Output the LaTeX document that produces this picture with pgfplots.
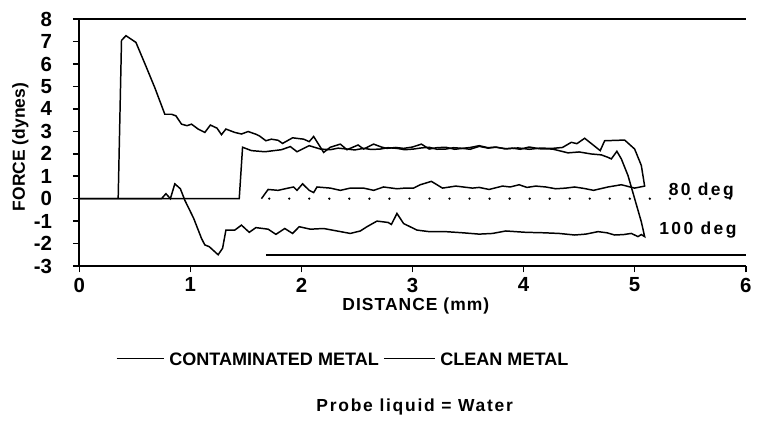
\documentclass[border=0pt]{standalone}
\usepackage{pgfplots}
\pgfplotsset{compat=1.18}
\usepackage{fontspec}
\setmainfont{Liberation Sans}
\begin{document}
\begin{tikzpicture}
\begin{axis}[
  scale only axis, width=336pt, height=124.5pt,
  xmin=0, xmax=6, ymin=-3, ymax=8,
  axis x line*=bottom, axis y line*=left,
  axis line style={-, line width=1pt},
  xtick={0,1,2,3,4,5,6}, ytick={-3,-2,...,8},
  tick align=outside, major tick length=3.2pt,
  tick style={line width=0.8pt, black},
  /pgf/number format/assume math mode=true,
  ticklabel style={font=\fontsize{10.3}{12}\selectfont\bfseries},
  yticklabel style={xshift=-7pt},
  xticklabel style={yshift=0.8pt},
  clip=false,
  cycle list={{black, line width=0.75pt, no markers}},
]
% top frame line
\addplot[black, line width=1pt] coordinates {(0,8) (6,8)};
% horizontal line near bottom
\addplot[black, line width=1pt] coordinates {(1.68,-2.53) (6,-2.53)};
% dotted zero line
\addplot[black, line width=1.3pt, line cap=round, dash pattern=on 0pt off 10.1pt] coordinates {(1.71,0) (5.95,0)};
% 100 deg loop
\addplot[black, line width=0.75pt] coordinates {
(0,0) (0.35,0) (0.38,7.05) (0.42,7.26) (0.51,6.96) (0.60,5.9) (0.68,4.94) (0.77,3.76) (0.83,3.76) (0.87,3.69) (0.92,3.32) (0.97,3.25) (1.01,3.32) (1.07,3.1) (1.13,2.95) (1.18,3.28) (1.24,3.14) (1.28,2.85) (1.32,3.1) (1.40,2.95) (1.46,2.88) (1.52,2.99) (1.59,2.87) (1.62,2.8) (1.68,2.58) (1.73,2.65) (1.79,2.6) (1.83,2.46) (1.92,2.71) (2.02,2.65) (2.07,2.54) (2.11,2.77) (2.20,2.06) (2.26,2.29) (2.35,2.43) (2.41,2.18) (2.51,2.39) (2.56,2.21) (2.65,2.43) (2.72,2.3) (2.77,2.24) (2.85,2.28) (2.92,2.24) (3.0,2.3) (3.08,2.43) (3.15,2.21) (3.22,2.27) (3.30,2.29) (3.38,2.2) (3.45,2.24) (3.52,2.28) (3.60,2.36) (3.68,2.27) (3.75,2.3) (3.83,2.22) (3.9,2.25) (3.97,2.2) (4.05,2.3) (4.15,2.22) (4.26,2.21) (4.40,2.04) (4.50,2.08) (4.61,1.99) (4.70,1.95) (4.76,1.84) (4.79,1.77) (4.84,2.11) (4.88,1.77) (4.94,1.03) (5.0,0) (5.06,-1.03) (5.09,-1.69)
(5.06,-1.6) (5.03,-1.69) (4.97,-1.55) (4.90,-1.6) (4.82,-1.62) (4.75,-1.52) (4.67,-1.47) (4.56,-1.58) (4.46,-1.62) (4.32,-1.55) (4.18,-1.52) (4.02,-1.5) (3.84,-1.44) (3.72,-1.55) (3.6,-1.58) (3.45,-1.52) (3.30,-1.47) (3.15,-1.47) (3.04,-1.40) (2.92,-1.11) (2.86,-0.66) (2.81,-1.15) (2.78,-1.06) (2.68,-1.0) (2.59,-1.25) (2.53,-1.44) (2.44,-1.55) (2.32,-1.44) (2.20,-1.33) (2.08,-1.36) (1.98,-1.25) (1.92,-1.55) (1.85,-1.33) (1.77,-1.59) (1.70,-1.36) (1.59,-1.29) (1.53,-1.5) (1.46,-1.18) (1.40,-1.4) (1.32,-1.40) (1.29,-2.21) (1.25,-2.5) (1.17,-2.14) (1.13,-2.06) (1.10,-1.77) (1.03,-0.88) (0.95,-0.07) (0.91,0.44) (0.86,0.66) (0.82,0) (0.78,0.22) (0.74,0) (0,0)
};
% 80 deg loop
\addplot[black, line width=0.75pt] coordinates {
(0,0) (1.44,0) (1.47,2.29) (1.55,2.14) (1.67,2.09) (1.82,2.18) (1.90,2.32) (1.96,2.09) (2.07,2.36) (2.17,2.21) (2.26,2.18) (2.33,2.25) (2.41,2.21) (2.48,2.17) (2.56,2.24) (2.63,2.19) (2.71,2.21) (2.78,2.27) (2.86,2.24) (2.93,2.18) (3.01,2.21) (3.08,2.26) (3.15,2.29) (3.22,2.2) (3.30,2.21) (3.37,2.27) (3.45,2.24) (3.52,2.2) (3.60,2.33) (3.68,2.25) (3.75,2.29) (3.85,2.22) (3.95,2.26) (4.05,2.2) (4.15,2.25) (4.26,2.24) (4.35,2.28) (4.43,2.51) (4.48,2.45) (4.55,2.69) (4.69,2.14) (4.73,2.58) (4.91,2.61) (5.0,2.21) (5.06,1.48) (5.09,0.56) (5.0,0.47)
(4.88,0.62) (4.76,0.52) (4.63,0.37) (4.55,0.45) (4.46,0.52) (4.38,0.47) (4.29,0.44) (4.20,0.52) (4.11,0.56) (4.03,0.5) (3.96,0.62) (3.88,0.52) (3.81,0.56) (3.69,0.41) (3.60,0.5) (3.54,0.47) (3.39,0.56) (3.27,0.47) (3.17,0.77) (3.07,0.62) (3.01,0.47) (2.93,0.47) (2.86,0.44) (2.74,0.52) (2.65,0.37) (2.56,0.47) (2.44,0.47) (2.35,0.37) (2.26,0.47) (2.14,0.52) (2.11,0.27) (2.07,0.37) (2.01,0.66) (1.96,0.37) (1.93,0.52) (1.88,0.47) (1.79,0.37) (1.70,0.41) (1.64,0)
};
\node[font=\fontsize{8.8}{10}\selectfont\bfseries\addfontfeature{LetterSpace=14}, anchor=base] at (axis cs:5.6,0.15) {80 deg};
\node[font=\fontsize{8.8}{10}\selectfont\bfseries\addfontfeature{LetterSpace=14}, anchor=base] at (axis cs:5.57,-1.59) {100 deg};
\node[font=\fontsize{8.8}{10}\selectfont\bfseries, rotate=90] at (axis cs:-0.53,2.3) {FORCE (dynes)};
\node[font=\fontsize{8.8}{10}\selectfont\bfseries\addfontfeature{LetterSpace=6}, anchor=base] at (axis cs:3.03,-5.0) {DISTANCE (mm)};
\node[font=\fontsize{9.1}{10}\selectfont\bfseries, anchor=base] at (axis cs:2.37,-7.43) {\rule[0.33em]{24pt}{0.6pt}\hspace{2.5pt}CONTAMINATED METAL\hspace{2.5pt}\rule[0.33em]{26pt}{0.6pt}\hspace{2.5pt}CLEAN METAL};
\node[font=\fontsize{8.8}{10}\selectfont\bfseries\addfontfeature{LetterSpace=10}, anchor=base] at (axis cs:3.02,-9.47) {Probe liquid = Water};
\path (axis cs:-0.714,8.85) rectangle (axis cs:6.054,-9.6);
\end{axis}
\end{tikzpicture}
\end{document}
